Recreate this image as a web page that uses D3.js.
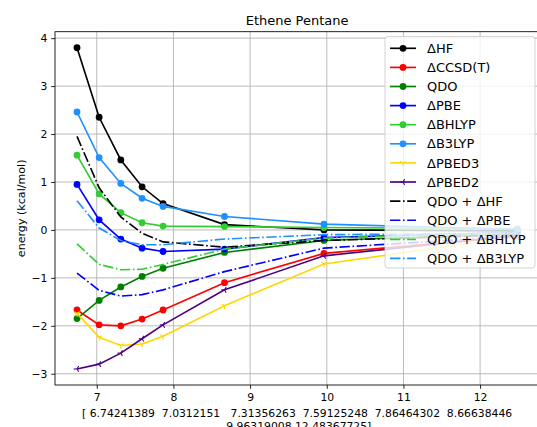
<!DOCTYPE html>
<html>
<head>
<meta charset="utf-8">
<script src="https://cdn.jsdelivr.net/npm/d3@7"></script>
<style>
  body { margin: 0; background: #fff; }
  svg { display: block; font-family: "DejaVu Sans", sans-serif; }
  text { white-space: pre; }
</style>
</head>
<body>
<svg id="chart" width="537" height="427"></svg>
<script>
// ---------- data ----------
const xValues = [6.74241389, 7.0312151, 7.31356263, 7.59125248, 7.86464302, 8.66638446, 9.96319008, 12.48367725];

const dHF      = [3.80, 2.35, 1.46, 0.90, 0.55, 0.11, 0.00, -0.02];
const dCCSDT   = [-1.67, -1.98, -2.00, -1.86, -1.67, -1.10, -0.49, -0.13];
const qdo      = [-1.85, -1.47, -1.19, -0.97, -0.80, -0.47, -0.22, -0.08];
const dPBE     = [0.95, 0.21, -0.19, -0.38, -0.45, -0.40, -0.16, -0.05];
const dBHLYP   = [1.56, 0.75, 0.36, 0.15, 0.08, 0.07, 0.05, 0.02];
const dB3LYP   = [2.46, 1.51, 0.97, 0.66, 0.49, 0.28, 0.12, 0.01];
const dPBED3   = [-1.74, -2.24, -2.41, -2.38, -2.22, -1.58, -0.71, -0.14];
const dPBED2   = [-2.90, -2.80, -2.57, -2.27, -1.98, -1.25, -0.54, -0.12];
const qdoHF    = [1.95, 0.88, 0.27, -0.07, -0.25, -0.36, -0.22, -0.10];
const qdoPBE   = [-0.90, -1.26, -1.38, -1.35, -1.25, -0.87, -0.38, -0.13];
const qdoBHLYP = [-0.29, -0.72, -0.83, -0.82, -0.72, -0.40, -0.17, -0.06];
const qdoB3LYP = [0.61, 0.04, -0.22, -0.31, -0.31, -0.19, -0.10, -0.07];

const seriesNames = ["ΔHF", "ΔCCSD(T)", "QDO", "ΔPBE", "ΔBHLYP", "ΔB3LYP", "ΔPBED3", "ΔPBED2",
                     "QDO + ΔHF", "QDO + ΔPBE", "QDO + ΔBHLYP", "QDO + ΔB3LYP"];
const xTicks = [7, 8, 9, 10, 11, 12];
const yTicks = [-3, -2, -1, 0, 1, 2, 3, 4];
const titleText = "Ethene Pentane";
const yLabelText = "energy (kcal/mol)";
const xLabelLines = ["[ 6.74241389  7.0312151   7.31356263  7.59125248  7.86464302  8.66638446",
                     " 9.96319008 12.48367725]"];

// ---------- styles ----------
const DD = "10.4,2.6,1.6,2.6";
const styles = [
  { color: "#000000", marker: "circle", dash: null },
  { color: "#ff0000", marker: "circle", dash: null },
  { color: "#008000", marker: "circle", dash: null },
  { color: "#0000ff", marker: "circle", dash: null },
  { color: "#32cd32", marker: "circle", dash: null },
  { color: "#1e90ff", marker: "circle", dash: null },
  { color: "#ffd700", marker: "tri_down", dash: null },
  { color: "#4b0082", marker: "tri_left", dash: null },
  { color: "#000000", marker: null, dash: DD },
  { color: "#0000ff", marker: null, dash: DD },
  { color: "#32cd32", marker: null, dash: DD },
  { color: "#1e90ff", marker: null, dash: DD }
];
const allValues = [dHF, dCCSDT, qdo, dPBE, dBHLYP, dB3LYP, dPBED3, dPBED2, qdoHF, qdoPBE, qdoBHLYP, qdoB3LYP];

// ---------- layout ----------
const svg = d3.select("#chart");
const pL = 55, pR = 539.2, pT = 31.7, pB = 385;

const xmin = d3.min(xValues), xmax = d3.max(xValues);
const xm = (xmax - xmin) * 0.05;
const x = d3.scaleLinear().domain([xmin - xm, xmax + xm]).range([pL, pR]);
const allY = allValues.flat();
const ymin = d3.min(allY), ymax = d3.max(allY);
const ym = (ymax - ymin) * 0.05;
const y = d3.scaleLinear().domain([ymin - ym, ymax + ym]).range([pB, pT]);

const fs = 10.8;
const lw1 = 1.65;

// grid
const grid = svg.append("g");
xTicks.forEach(t => grid.append("line")
  .attr("x1", x(t)).attr("x2", x(t)).attr("y1", pT).attr("y2", pB)
  .attr("stroke", "#b0b0b0").attr("stroke-width", 0.86));
yTicks.forEach(t => grid.append("line")
  .attr("x1", pL).attr("x2", pR).attr("y1", y(t)).attr("y2", y(t))
  .attr("stroke", "#b0b0b0").attr("stroke-width", 0.86));

// axes with d3 axis generators
const xAxis = svg.append("g").attr("transform", `translate(0,${pB})`)
  .call(d3.axisBottom(x).tickValues(xTicks).tickSize(3.8).tickPadding(3.8).tickFormat(d3.format("d")));
const yAxis = svg.append("g").attr("transform", `translate(${pL},0)`)
  .call(d3.axisLeft(y).tickValues(yTicks).tickSize(3.8).tickPadding(3.8)
    .tickFormat(d => (d < 0 ? "\u2212" + Math.abs(d) : String(d))));
[xAxis, yAxis].forEach(g => {
  g.select(".domain").remove();
  g.selectAll(".tick line").attr("stroke", "#000").attr("stroke-width", 0.86);
  g.selectAll(".tick text").attr("fill", "#000").attr("font-size", fs)
    .attr("font-family", "DejaVu Sans");
});
xAxis.selectAll(".tick text").attr("dy", "0.76em").attr("y", 7.6);

// data lines
const plot = svg.append("g");
const lineGen = d3.line().x((d, i) => x(xValues[i])).y(d => y(d));

function drawMarker(g, type, cx, cy, color) {
  if (type === "circle") {
    g.append("circle").attr("cx", cx).attr("cy", cy).attr("r", 3.4).attr("fill", color);
  } else if (type === "tri_down") {
    const r = 3.3;
    const p = [[0, r], [-r * 0.866, -r * 0.5], [r * 0.866, -r * 0.5]];
    p.forEach(q => g.append("line").attr("x1", cx).attr("y1", cy)
      .attr("x2", cx + q[0]).attr("y2", cy + q[1]).attr("stroke", color).attr("stroke-width", 1.1));
  } else if (type === "tri_left") {
    const r = 3.3;
    const p = [[-r, 0], [r * 0.5, -r * 0.866], [r * 0.5, r * 0.866]];
    p.forEach(q => g.append("line").attr("x1", cx).attr("y1", cy)
      .attr("x2", cx + q[0]).attr("y2", cy + q[1]).attr("stroke", color).attr("stroke-width", 1.1));
  }
}

allValues.forEach((vals, k) => {
  const st = styles[k];
  const g = plot.append("g");
  g.append("path").datum(vals).attr("d", lineGen).attr("fill", "none")
    .attr("stroke", st.color).attr("stroke-width", lw1)
    .attr("stroke-dasharray", st.dash);
  if (st.marker) vals.forEach((v, i) => drawMarker(g, st.marker, x(xValues[i]), y(v), st.color));
});

// frame
svg.append("rect").attr("x", pL).attr("y", pT).attr("width", pR - pL).attr("height", pB - pT)
  .attr("fill", "none").attr("stroke", "#000").attr("stroke-width", 0.86);

// title
svg.append("text").attr("x", (pL + pR) / 2).attr("y", 25).attr("text-anchor", "middle")
  .attr("font-size", 13).text(titleText);

// y label
svg.append("text").attr("transform", `translate(25,${(pT + pB) / 2}) rotate(-90)`)
  .attr("text-anchor", "middle").attr("font-size", 11.1).text(yLabelText);

// x label (two lines)
xLabelLines.forEach((t, i) => svg.append("text")
  .attr("x", (pL + pR) / 2).attr("y", 417 + i * 13)
  .attr("text-anchor", "middle").attr("font-size", fs).text(t));

// legend
const lg = svg.append("g");
const lx = 385, ly = 36.5, lw = 150, lh = 231.5;
lg.append("rect").attr("x", lx).attr("y", ly).attr("width", lw).attr("height", lh)
  .attr("rx", 3).attr("fill", "#fff").attr("fill-opacity", 0.8)
  .attr("stroke", "#cccccc").attr("stroke-width", 0.86);
seriesNames.forEach((name, i) => {
  const st = styles[i];
  const yy = 48.3 + i * 19.1;
  lg.append("line").attr("x1", 390).attr("x2", 416).attr("y1", yy).attr("y2", yy)
    .attr("stroke", st.color).attr("stroke-width", lw1).attr("stroke-dasharray", st.dash);
  if (st.marker) drawMarker(lg, st.marker, 403, yy, st.color);
  lg.append("text").attr("x", 427).attr("y", yy).attr("dy", "0.36em")
    .attr("font-size", 13).text(name);
});
</script>
</body>
</html>
